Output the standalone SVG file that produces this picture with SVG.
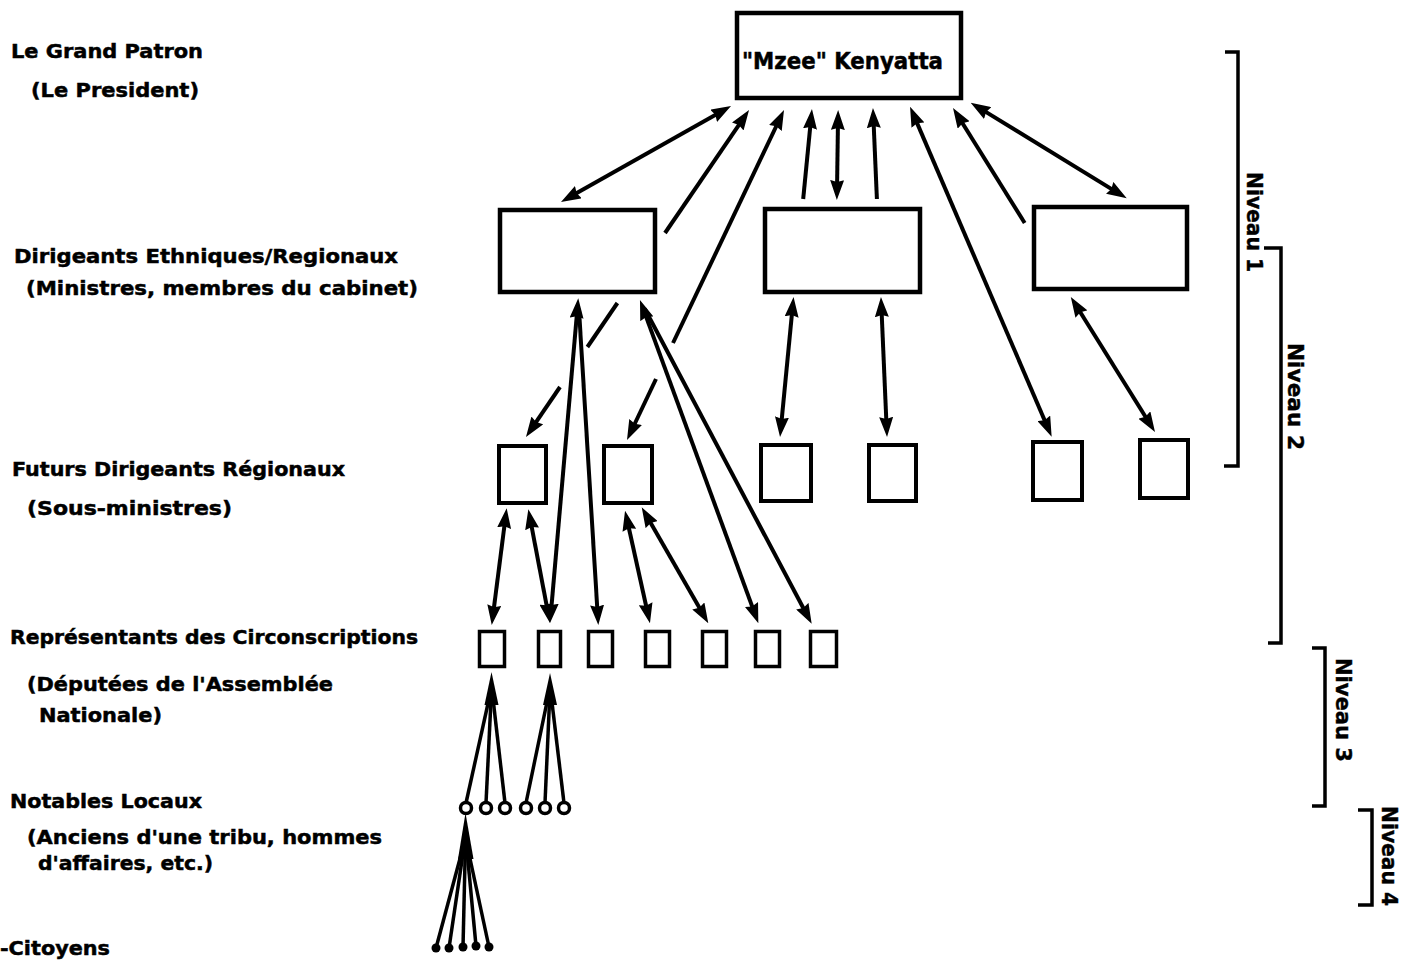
<svg xmlns="http://www.w3.org/2000/svg" width="1414" height="970" viewBox="0 0 1414 970">
<style>
.lbl{font-family:"DejaVu Sans","Liberation Sans",sans-serif;font-weight:bold;font-size:20px;fill:#000;stroke:#000;stroke-width:0.5}
.niv{font-family:"DejaVu Sans","Liberation Sans",sans-serif;font-weight:bold;font-size:22px;fill:#000;stroke:#000;stroke-width:0.4}
.box{fill:#fff;stroke:#000;stroke-width:4.5}
.sq{fill:#fff;stroke:#000;stroke-width:4}
.sm{fill:#fff;stroke:#000;stroke-width:3.5}
.ln{stroke:#000;stroke-width:4;fill:none}
.b{marker-start:url(#ah);marker-end:url(#ah)}
.s{marker-start:url(#ah)}
.e{marker-end:url(#ah)}
.fan{stroke:#000;stroke-width:3.5;fill:none}
.br{stroke:#000;stroke-width:3.5;fill:none}
</style>
<defs>
<marker id="ah" viewBox="0 0 20 14" refX="10" refY="7" markerWidth="20" markerHeight="14" markerUnits="userSpaceOnUse" orient="auto-start-reverse">
<path d="M0,0 L20,7 L0,14 L2,7 Z" fill="#000"/>
</marker>
</defs>
<rect width="1414" height="970" fill="#fff"/>

<g id="labels">
<text class="lbl" x="11" y="58" textLength="192" lengthAdjust="spacingAndGlyphs">Le Grand Patron</text>
<text class="lbl" x="31" y="97" textLength="168" lengthAdjust="spacingAndGlyphs">(Le President)</text>
<text class="lbl" x="14" y="263" textLength="384" lengthAdjust="spacingAndGlyphs">Dirigeants Ethniques/Regionaux</text>
<text class="lbl" x="26" y="295" textLength="392" lengthAdjust="spacingAndGlyphs">(Ministres, membres du cabinet)</text>
<text class="lbl" x="12" y="476" textLength="333" lengthAdjust="spacingAndGlyphs">Futurs Dirigeants Régionaux</text>
<text class="lbl" x="27" y="515" textLength="205" lengthAdjust="spacingAndGlyphs">(Sous-ministres)</text>
<text class="lbl" x="10" y="644" textLength="408" lengthAdjust="spacingAndGlyphs">Représentants des Circonscriptions</text>
<text class="lbl" x="27" y="691" textLength="306" lengthAdjust="spacingAndGlyphs">(Députées de l'Assemblée</text>
<text class="lbl" x="39" y="722" textLength="123" lengthAdjust="spacingAndGlyphs">Nationale)</text>
<text class="lbl" x="10" y="808" textLength="192" lengthAdjust="spacingAndGlyphs">Notables Locaux</text>
<text class="lbl" x="27" y="844" textLength="355" lengthAdjust="spacingAndGlyphs">(Anciens d'une tribu, hommes</text>
<text class="lbl" x="38" y="870" textLength="175" lengthAdjust="spacingAndGlyphs">d'affaires, etc.)</text>
<text class="lbl" x="0" y="955" textLength="110" lengthAdjust="spacingAndGlyphs">-Citoyens</text>
</g>

<g id="connectors">
<line class="ln b" x1="722.3" y1="110.9" x2="569.7" y2="197.1"/>
<line class="ln s" x1="743.4" y1="118.3" x2="665" y2="233"/>
<line class="ln" x1="617.4" y1="303" x2="587.4" y2="347"/>
<line class="ln e" x1="560" y1="387" x2="531.6" y2="428.7"/>
<line class="ln s" x1="779.7" y1="119" x2="673" y2="343"/>
<line class="ln e" x1="656" y1="379" x2="631.3" y2="431"/>
<line class="ln s" x1="811" y1="119" x2="803.2" y2="199"/>
<line class="ln b" x1="792.6" y1="307" x2="781" y2="427"/>
<line class="ln b" x1="838" y1="120" x2="837" y2="190"/>
<line class="ln s" x1="873.4" y1="118" x2="876.9" y2="199"/>
<line class="ln b" x1="881.4" y1="307" x2="886.6" y2="427"/>
<line class="ln b" x1="914" y1="115.9" x2="1047.7" y2="427.5"/>
<line class="ln s" x1="958.3" y1="116.5" x2="1024.7" y2="223"/>
<line class="ln b" x1="1076.1" y1="305.5" x2="1149.7" y2="423.5"/>
<line class="ln b" x1="979.2" y1="107.9" x2="1118.2" y2="193.1"/>
<line class="ln b" x1="577.4" y1="308.3" x2="550.9" y2="613"/>
<line class="ln e" x1="579" y1="310" x2="597.7" y2="615"/>
<line class="ln b" x1="643.4" y1="309.4" x2="754.9" y2="613.9"/>
<line class="ln e" x1="644.7" y1="308.8" x2="807" y2="615"/>
<line class="ln b" x1="505.4" y1="518.2" x2="493" y2="615.1"/>
<line class="ln b" x1="530.2" y1="519.1" x2="548.1" y2="613.2"/>
<line class="ln b" x1="627.2" y1="520.5" x2="647.8" y2="613.5"/>
<line class="ln b" x1="646.7" y1="516" x2="703.3" y2="614.6"/>
<!-- fans -->
<polygon points="491.5,672 484.5,705 498.5,705" fill="#000"/>
<line class="fan" x1="491" y1="690" x2="466" y2="803"/>
<line class="fan" x1="491.5" y1="690" x2="486" y2="803"/>
<line class="fan" x1="492" y1="690" x2="505" y2="803"/>
<polygon points="550,673 543,705 557,705" fill="#000"/>
<line class="fan" x1="549.5" y1="690" x2="526" y2="803"/>
<line class="fan" x1="550" y1="690" x2="545" y2="803"/>
<line class="fan" x1="550.5" y1="690" x2="564" y2="803"/>
<polygon points="465.5,813 458,859 473.5,859" fill="#000"/>
<line class="fan" x1="465" y1="840" x2="436" y2="948"/>
<line class="fan" x1="465" y1="840" x2="449" y2="948"/>
<line class="fan" x1="465.5" y1="840" x2="463" y2="947"/>
<line class="fan" x1="466" y1="840" x2="476" y2="946"/>
<line class="fan" x1="466" y1="840" x2="489" y2="947"/>
</g>

<g id="n-kenyatta">
<rect class="box" x="737" y="13" width="224" height="85"/>
<text class="lbl" x="742" y="69" style="font-size:23px" textLength="201" lengthAdjust="spacingAndGlyphs">"Mzee" Kenyatta</text>
</g>
<g id="n-ministre-1"><rect class="box" x="500" y="210" width="155" height="82"/></g>
<g id="n-ministre-2"><rect class="box" x="765" y="209" width="155" height="83"/></g>
<g id="n-ministre-3"><rect class="box" x="1034" y="207" width="153" height="82"/></g>

<g id="n-sous-1"><rect class="sq" x="499" y="446" width="47" height="57"/></g>
<g id="n-sous-2"><rect class="sq" x="604" y="446" width="48" height="57"/></g>
<g id="n-sous-3"><rect class="sq" x="761" y="445" width="50" height="56"/></g>
<g id="n-sous-4"><rect class="sq" x="869" y="445" width="47" height="56"/></g>
<g id="n-sous-5"><rect class="sq" x="1033" y="442" width="49" height="58"/></g>
<g id="n-sous-6"><rect class="sq" x="1140" y="440" width="48" height="58"/></g>

<g id="n-depute-1"><rect class="sm" x="479.5" y="631.5" width="25" height="35"/></g>
<g id="n-depute-2"><rect class="sm" x="538.5" y="631.5" width="22" height="35"/></g>
<g id="n-depute-3"><rect class="sm" x="588.5" y="631.5" width="24" height="35"/></g>
<g id="n-depute-4"><rect class="sm" x="645.5" y="631.5" width="24" height="35"/></g>
<g id="n-depute-5"><rect class="sm" x="702.5" y="631.5" width="24" height="35"/></g>
<g id="n-depute-6"><rect class="sm" x="755.5" y="631.5" width="24" height="35"/></g>
<g id="n-depute-7"><rect class="sm" x="810.5" y="631.5" width="26" height="35"/></g>

<g id="n-notables">
<circle class="sm" cx="466" cy="808" r="5.5"/>
<circle class="sm" cx="486" cy="808" r="5.5"/>
<circle class="sm" cx="505" cy="808" r="5.5"/>
<circle class="sm" cx="526" cy="808" r="5.5"/>
<circle class="sm" cx="545" cy="808" r="5.5"/>
<circle class="sm" cx="564" cy="808" r="5.5"/>
</g>
<g id="n-citoyens" fill="#000">
<circle cx="436" cy="948" r="4.5"/>
<circle cx="449" cy="948" r="4.5"/>
<circle cx="463" cy="947" r="4.5"/>
<circle cx="476" cy="946" r="4.5"/>
<circle cx="489" cy="947" r="4.5"/>
</g>

<g id="niveaux">
<path class="br" d="M1225,52 H1238 V466 H1224"/>
<text class="niv" transform="translate(1247,172) rotate(90)" textLength="100" lengthAdjust="spacingAndGlyphs">Niveau 1</text>
<path class="br" d="M1264,248 H1281 V643 H1268"/>
<text class="niv" transform="translate(1288,343) rotate(90)" textLength="107" lengthAdjust="spacingAndGlyphs">Niveau 2</text>
<path class="br" d="M1312,648 H1325 V806 H1312"/>
<text class="niv" transform="translate(1336,658) rotate(90)" textLength="104" lengthAdjust="spacingAndGlyphs">Niveau 3</text>
<path class="br" d="M1358,810 H1372 V905 H1358"/>
<text class="niv" transform="translate(1382,806) rotate(90)" textLength="100" lengthAdjust="spacingAndGlyphs">Niveau 4</text>
</g>
</svg>
